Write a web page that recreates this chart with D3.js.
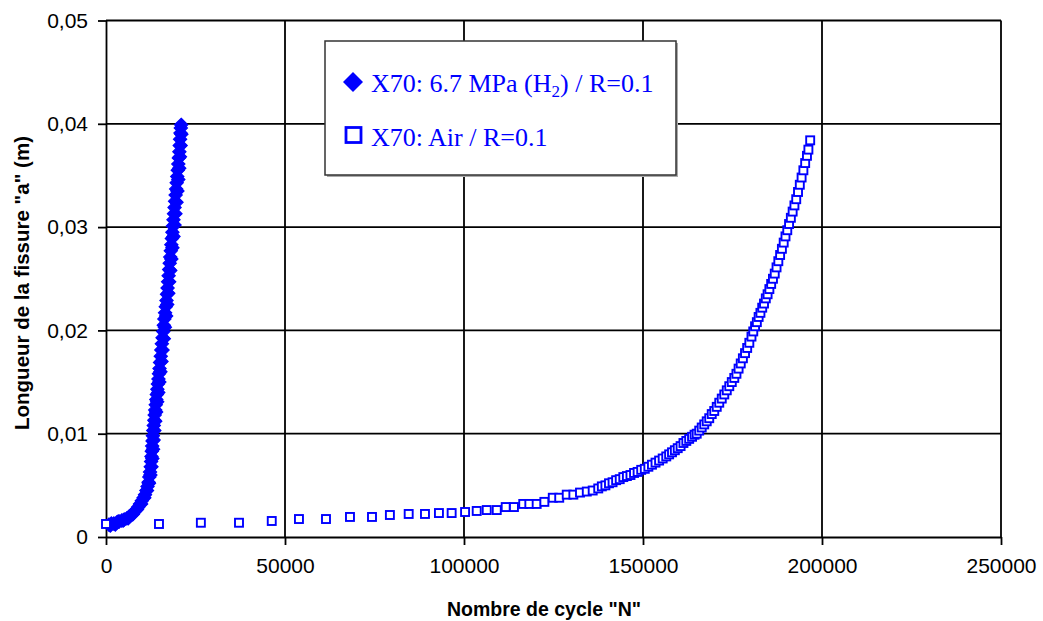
<!DOCTYPE html>
<html>
<head>
<meta charset="utf-8">
<script src="https://cdn.jsdelivr.net/npm/d3@7"></script>
<style>
  html, body { margin: 0; padding: 0; background: #fff; }
  svg { display: block; }
</style>
</head>
<body>
<svg id="chart" width="1043" height="621"></svg>
<script>
// ---------- DATA ----------
const xTicks = [0, 50000, 100000, 150000, 200000, 250000];
const yTicks = [0, 0.01, 0.02, 0.03, 0.04, 0.05];
const xTitle = 'Nombre de cycle "N"';
const yTitle = 'Longueur de la fissure "a" (m)';
const seriesNames = ["X70: 6.7 MPa (H", "X70: Air / R=0.1"];

// X70 under 6.7 MPa H2, R=0.1 : cycles N
const h2N = [800, 1500, 2200, 3000, 3700, 4400, 5100, 5800, 6500, 7200, 7800, 8400, 9000, 9500, 10000,
  10500, 10900, 11300, 11600, 11900, 12100, 12300, 12500, 12600, 12700, 12800, 12900, 13000, 13100, 13200,
  13350, 13500, 13600, 13750, 13900, 14050, 14200, 14350, 14500, 14650, 14800, 14950, 15100, 15300, 15450,
  15600, 15800, 16000, 16150, 16300, 16500, 16700, 16900, 17050, 17200, 17350, 17500, 17650, 17800, 17950,
  18100, 18250, 18400, 18550, 18700, 18850, 19000, 19150, 19300, 19450, 19600, 19750, 19900, 20050, 20200,
  20350, 20500, 20600, 20700, 20800, 20900, 21000,
  1200, 2600, 3400, 4800, 6200, 7500, 8700, 9800, 10700, 11450, 12000, 12400, 12700, 12950, 13150, 13300,
  13500, 13750, 14000, 14300, 14600, 14900, 15200, 15500, 15800, 16150, 16450, 16800, 17100, 17400, 17650,
  17950, 18250, 18550, 18850, 19150, 19400, 19700, 19950, 20200, 20450, 20650, 20850, 21050];
// crack length a (m)
const h2A = [0.0012, 0.0013, 0.0013, 0.0014, 0.0015, 0.0016, 0.0017, 0.0018, 0.0020, 0.0022, 0.0024, 0.0026, 0.0029, 0.0032, 0.0035,
  0.0038, 0.0041, 0.0045, 0.0049, 0.0053, 0.0058, 0.0063, 0.0068, 0.0073, 0.0078, 0.0083, 0.0088, 0.0093, 0.0098, 0.0103,
  0.0108, 0.0113, 0.0118, 0.0123, 0.0128, 0.0133, 0.0138, 0.0143, 0.0148, 0.0153, 0.0158, 0.0163, 0.0169, 0.0175, 0.0181,
  0.0187, 0.0193, 0.0199, 0.0205, 0.0211, 0.0217, 0.0223, 0.0229, 0.0235, 0.0241, 0.0247, 0.0253, 0.0259, 0.0265, 0.0271,
  0.0277, 0.0283, 0.0289, 0.0295, 0.0301, 0.0307, 0.0313, 0.0319, 0.0325, 0.0331, 0.0337, 0.0343, 0.0349, 0.0355, 0.0361,
  0.0367, 0.0373, 0.0379, 0.0385, 0.0391, 0.0396, 0.0399,
  0.0011, 0.0012, 0.0015, 0.0016, 0.0018, 0.0022, 0.0027, 0.0032, 0.0038, 0.0045, 0.0052, 0.0060, 0.0068, 0.0076, 0.0085, 0.0094,
  0.0103, 0.0112, 0.0121, 0.0131, 0.0140, 0.0150, 0.0160, 0.0170, 0.0181, 0.0192, 0.0203, 0.0214, 0.0225, 0.0236, 0.0247,
  0.0258, 0.0269, 0.0280, 0.0291, 0.0302, 0.0313, 0.0324, 0.0335, 0.0346, 0.0357, 0.0368, 0.0379, 0.0390];

// X70 in air, R=0.1 : cycles N
const airN = [0, 14800, 26500, 37150, 46300, 53900, 61450, 68150, 74300, 79300, 84550, 89100, 93000, 96550,
  100300, 103550, 106350, 109150, 111650, 113950, 116550, 118250, 120300, 122450, 124800, 126600, 128700,
  130550, 132400, 134300, 135950, 137500,
  138500, 139500, 140500, 141500, 142500, 143500, 144500, 145500, 146500, 147500, 148500, 149500, 150500,
  151500, 152500, 153500, 154500, 155500, 156500, 157300, 158100, 158900, 159700, 160500, 161300, 162100,
  162900, 163700, 164400, 165000, 165700, 166400, 167100, 167800, 168500, 169200, 169900, 170600, 171300,
  172000, 172700, 173400, 174100, 174800, 175500, 176100, 176700, 177300, 177900, 178500, 179100, 179700,
  180300, 180800, 181300, 181800, 182300, 182800, 183300, 183800, 184300, 184800, 185300, 185800, 186300,
  186800, 187300, 187800, 188300, 188800, 189300, 189800, 190300, 190800, 191300, 191800, 192300, 192800,
  193300, 193800, 194300, 194800, 195300, 195800, 196200, 196700];
// crack length a (m)
const airA = [0.00126, 0.00126, 0.00138, 0.00138, 0.00155, 0.00174, 0.00174, 0.00194, 0.00194, 0.00213, 0.00223, 0.00223, 0.00232, 0.00232,
  0.00242, 0.00252, 0.00261, 0.00261, 0.0029, 0.0029, 0.0032, 0.0032, 0.0032, 0.0034, 0.0038, 0.0038, 0.0041,
  0.0041, 0.0043, 0.0044, 0.0045, 0.0047,
  0.0049, 0.0050, 0.0052, 0.0053, 0.0055, 0.0056, 0.0058, 0.0059, 0.0060, 0.0062, 0.0063, 0.0065, 0.0066,
  0.0068, 0.0070, 0.0072, 0.0074, 0.0076, 0.0078, 0.0080, 0.0082, 0.0084, 0.0086, 0.0088, 0.0091, 0.0093,
  0.0095, 0.0097, 0.0099, 0.0100, 0.0103, 0.0106, 0.0109, 0.0112, 0.0115, 0.0119, 0.0122, 0.0126, 0.0130,
  0.0134, 0.0138, 0.0142, 0.0146, 0.0150, 0.0154, 0.0158, 0.0163, 0.0168, 0.0173, 0.0178, 0.0183, 0.0188,
  0.0194, 0.0199, 0.0204, 0.0208, 0.0213, 0.0217, 0.0222, 0.0226, 0.0231, 0.0235, 0.0240, 0.0245, 0.0250,
  0.0255, 0.0261, 0.0267, 0.0273, 0.0279, 0.0285, 0.0291, 0.0297, 0.0303, 0.0309, 0.0315, 0.0321, 0.0327,
  0.0334, 0.0341, 0.0348, 0.0355, 0.0362, 0.0369, 0.0375, 0.0384];

// ---------- CHART ----------
const svg = d3.select("#chart");
const blue = "#0000FF";
const L = 106, R = 1001, T = 20.5, B = 537;
const x = d3.scaleLinear().domain([0, 250000]).range([L, R]);
const y = d3.scaleLinear().domain([0, 0.05]).range([B, T]);
const sans = "Arial, 'Liberation Sans', sans-serif";
const serif = "'Times New Roman', 'Liberation Serif', serif";

// gridlines
svg.append("g").selectAll("line").data(yTicks.filter(d => d > 0)).join("line")
  .attr("x1", L).attr("x2", R).attr("y1", d => y(d)).attr("y2", d => y(d))
  .attr("stroke", "#000").attr("stroke-width", 1.8);
svg.append("g").selectAll("line").data(xTicks.filter(d => d > 0)).join("line")
  .attr("x1", d => x(d)).attr("x2", d => x(d)).attr("y1", T).attr("y2", B)
  .attr("stroke", "#000").attr("stroke-width", 1.8);

// axes
const fmtY = d => d === 0 ? "0" : d3.format(".2f")(d).replace(".", ",");
const xAxis = svg.append("g").attr("transform", `translate(0,${B})`)
  .call(d3.axisBottom(x).tickValues(xTicks).tickSize(8).tickPadding(13).tickSizeOuter(0).tickFormat(d3.format("d")));
const yAxis = svg.append("g").attr("transform", `translate(${L},0)`)
  .call(d3.axisLeft(y).tickValues(yTicks).tickSize(8).tickPadding(10).tickSizeOuter(0).tickFormat(fmtY));
[xAxis, yAxis].forEach(g => {
  g.selectAll("path.domain").attr("stroke", "#000").attr("stroke-width", 1.8);
  g.selectAll(".tick line").attr("stroke", "#000").attr("stroke-width", 1.8);
  g.selectAll(".tick text").attr("fill", "#000").style("font-family", sans).style("font-size", "21px");
});

// titles
svg.append("text").attr("x", 544).attr("y", 616).attr("text-anchor", "middle")
  .style("font-family", sans).style("font-size", "19.5px").style("font-weight", "bold")
  .text(xTitle);
svg.append("text").attr("transform", "translate(29,283) rotate(-90)").attr("text-anchor", "middle")
  .style("font-family", sans).style("font-size", "20.5px").style("font-weight", "bold")
  .text(yTitle);

// H2 series: filled diamonds
const h2 = h2N.map((n, i) => ({ n, a: h2A[i] }));
const dHalf = 6.6;
const diamond = (cx, cy, h) => `M${cx},${cy - h}L${cx + h},${cy}L${cx},${cy + h}L${cx - h},${cy}Z`;
svg.append("g").selectAll("path").data(h2).join("path")
  .attr("d", d => diamond(x(d.n), y(d.a), dHalf))
  .attr("fill", blue).attr("stroke", blue).attr("stroke-width", 1.2);

// Air series: hollow squares
const air = airN.map((n, i) => ({ n, a: airA[i] }));
const sq = 8;
svg.append("g").selectAll("rect").data(air).join("rect")
  .attr("x", d => x(d.n) - sq / 2).attr("y", d => y(d.a) - sq / 2)
  .attr("width", sq).attr("height", sq)
  .attr("fill", "#fff").attr("stroke", blue).attr("stroke-width", 1.9);

// legend
const lg = svg.append("g");
lg.append("rect").attr("x", 327).attr("y", 43).attr("width", 351).attr("height", 134).attr("fill", "#aaa");
lg.append("rect").attr("x", 325).attr("y", 41).attr("width", 351).attr("height", 134)
  .attr("fill", "#fff").attr("stroke", "#333").attr("stroke-width", 1.5);
lg.append("path").attr("d", diamond(353, 82, 10)).attr("fill", blue);
lg.append("rect").attr("x", 346).attr("y", 127.5).attr("width", 15).attr("height", 15)
  .attr("fill", "#fff").attr("stroke", blue).attr("stroke-width", 2.8);
const lt1 = lg.append("text").attr("x", 371).attr("y", 92)
  .style("font-family", serif).style("font-size", "26px").attr("fill", blue);
lt1.append("tspan").text(seriesNames[0]);
lt1.append("tspan").attr("dy", 5).style("font-size", "17px").text("2");
lt1.append("tspan").attr("dy", -5).text(") / R=0.1");
lg.append("text").attr("x", 371).attr("y", 146)
  .style("font-family", serif).style("font-size", "26px").attr("fill", blue)
  .text(seriesNames[1]);
</script>
</body>
</html>
